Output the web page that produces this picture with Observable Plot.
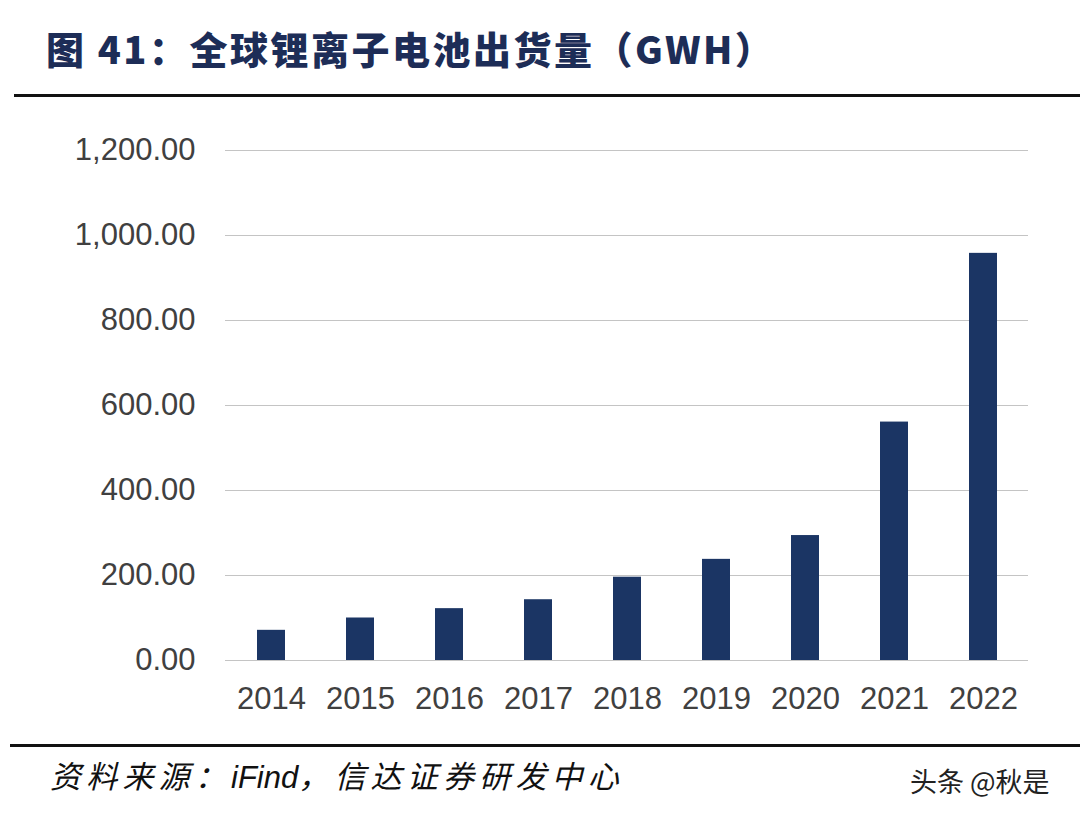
<!DOCTYPE html>
<html>
<head>
<meta charset="utf-8">
<script src="https://cdn.jsdelivr.net/npm/d3@7"></script>
<script src="https://cdn.jsdelivr.net/npm/@observablehq/plot@0.6"></script>
<style>
  html, body { margin: 0; padding: 0; background: #fff; }
  #page { position: relative; width: 1080px; height: 820px; overflow: hidden; background: #fff; }
  #title { position: absolute; left: 46px; top: 20px; font-family: "Noto Sans CJK SC", sans-serif; font-weight: 900; font-size: 38px; color: #1d2d57; letter-spacing: 2.5px; white-space: nowrap; }
  #rule1 { position: absolute; left: 14px; right: 0; top: 94px; height: 3px; background: #111; }
  #chart { position: absolute; left: 0; top: 110px; }
  #rule2 { position: absolute; left: 10px; right: 0; top: 744px; height: 3px; background: #111; }
  #source { position: absolute; left: 50px; top: 752px; font-family: "Noto Sans CJK SC", sans-serif; font-style: italic; font-size: 31px; letter-spacing: 5.2px; color: #111; white-space: nowrap; }
  #source .en { font-family: "Liberation Sans", Arial, sans-serif; letter-spacing: 0; }
  #mark { position: absolute; left: 910px; top: 761px; font-family: "Noto Sans CJK SC", sans-serif; font-size: 27px; color: #222; white-space: nowrap; }
</style>
</head>
<body>
<div id="page">
  <div id="title">图 41：全球锂离子电池出货量（GWH）</div>
  <div id="rule1"></div>
  <div id="chart"></div>
  <div id="rule2"></div>
  <div id="source">资料来源：<span class="en">iFind</span>，信达证券研发中心</div>
  <div id="mark">头条 @秋是</div>
</div>
<script>
const years = ["2014", "2015", "2016", "2017", "2018", "2019", "2020", "2021", "2022"];
const shipments = [71, 100, 122, 143, 196, 238, 294, 561, 958];
const yTicks = [0, 200, 400, 600, 800, 1000, 1200];

const data = years.map((y, i) => ({year: y, value: shipments[i]}));

const chart = Plot.plot({
  width: 1080,
  height: 620,
  marginTop: 40,
  marginBottom: 70,
  marginLeft: 225,
  marginRight: 52,
  style: { fontFamily: "'Liberation Sans', Arial, sans-serif", fontSize: "31px", color: "#404040", background: "transparent" },
  x: { domain: years, paddingInner: 0.69, paddingOuter: 0.345, label: null },
  y: { domain: [0, 1200], label: null },
  marks: [
    Plot.gridY(yTicks, { stroke: "#c4c4c4", strokeOpacity: 1, strokeWidth: 1.2 }),
    Plot.barY(data, { x: "year", y: "value", fill: "#1b3564" }),
    Plot.axisY(yTicks, { tickSize: 0, tickPadding: 30, tickFormat: d3.format(",.2f"), fontSize: 31, fill: "#404040", label: null }),
    Plot.axisX({ tickSize: 0, tickPadding: 26, fontSize: 31, fill: "#404040", label: null })
  ]
});
document.getElementById("chart").appendChild(chart);
</script>
</body>
</html>
